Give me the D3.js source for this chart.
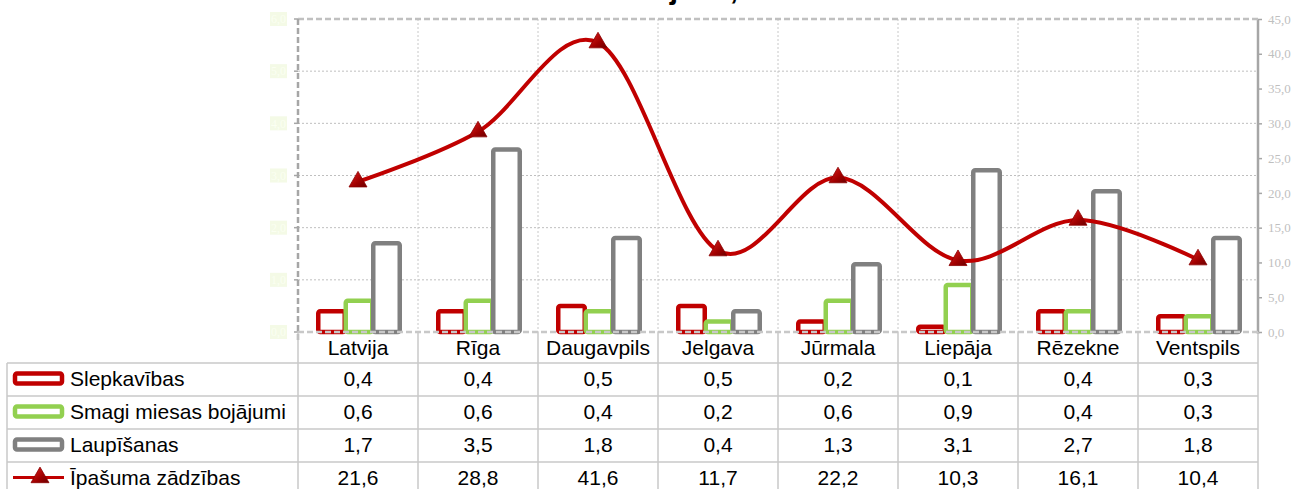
<!DOCTYPE html>
<html>
<head>
<meta charset="utf-8">
<script src="https://cdn.jsdelivr.net/npm/d3@7"></script>
<style>
  body { margin: 0; background: #fff; }
  svg { display: block; font-family: "Liberation Sans", Arial, sans-serif; }
</style>
</head>
<body>
<div id="chart"></div>
<script>
// data
const categories = ["Latvija", "Rīga", "Daugavpils", "Jelgava", "Jūrmala", "Liepāja", "Rēzekne", "Ventspils"];
const slepkavibas = [0.4, 0.4, 0.5, 0.5, 0.2, 0.1, 0.4, 0.3];
const smagiMiesas = [0.6, 0.6, 0.4, 0.2, 0.6, 0.9, 0.4, 0.3];
const laupisanas = [1.7, 3.5, 1.8, 0.4, 1.3, 3.1, 2.7, 1.8];
const ipasumaZadzibas = [21.6, 28.8, 41.6, 11.7, 22.2, 10.3, 16.1, 10.4];
const leftTicks = [0, 1, 2, 3, 4, 5, 6];
const rightTicks = [0, 5, 10, 15, 20, 25, 30, 35, 40, 45];

const barSeries = [
    {name: "Slepkavības", values: slepkavibas, color: "#c00000"},
    {name: "Smagi miesas bojājumi", values: smagiMiesas, color: "#92d050"},
    {name: "Laupīšanas", values: laupisanas, color: "#808080"}
];
const lineSeries = {name: "Īpašuma zādzības", values: ipasumaZadzibas, color: "#c00000"};

const W = 1293, H = 489;
const pLeft = 298, pRight = 1258, pTop = 19, pBottom = 332;
const rowH = 33;
const fs = 21;

const lv = d3.formatLocale({decimal: ",", thousands: " ", grouping: [3], currency: ["", ""]});
const fmt = lv.format(".1f");

const svg = d3.select("#chart").append("svg")
    .attr("width", W)
    .attr("height", H);

const defs = svg.append("defs");
const grad = defs.append("linearGradient").attr("id", "tri")
    .attr("x1", 0).attr("y1", 0).attr("x2", 1).attr("y2", 1);
grad.append("stop").attr("offset", "0%").attr("stop-color", "#e02020");
grad.append("stop").attr("offset", "60%").attr("stop-color", "#a00000");
grad.append("stop").attr("offset", "100%").attr("stop-color", "#6a0000");

const x = d3.scaleBand().domain(categories).range([pLeft, pRight]).padding(0);
const yL = d3.scaleLinear().domain([0, 6]).range([pBottom, pTop]);
const yR = d3.scaleLinear().domain([0, 45]).range([pBottom, pTop]);

// title (cut off at the top of the picture, only descenders show)
svg.append("text")
    .attr("x", 738).attr("y", -1)
    .attr("text-anchor", "end")
    .attr("font-size", 30)
    .attr("font-weight", "bold")
    .text("Noziedzības līmenis uz 1000 iedzīvotājiem,");

// horizontal grid
svg.append("g").selectAll("line")
    .data(leftTicks.slice(1, -1))
    .enter().append("line")
    .attr("x1", pLeft).attr("x2", pRight)
    .attr("y1", d => yL(d)).attr("y2", d => yL(d))
    .attr("stroke", "#bfbfbf")
    .attr("stroke-width", 1)
    .attr("stroke-dasharray", "2,2");

// vertical grid
svg.append("g").selectAll("line")
    .data(categories.slice(1))
    .enter().append("line")
    .attr("x1", d => x(d)).attr("x2", d => x(d))
    .attr("y1", pTop).attr("y2", pBottom)
    .attr("stroke", "#c8c8c8")
    .attr("stroke-width", 1)
    .attr("stroke-dasharray", "2,2");

// left axis labels (very faint)
const leftLab = svg.append("g").selectAll("g")
    .data(leftTicks)
    .enter().append("g")
    .attr("transform", d => `translate(278.5,${yL(d)})`);
leftLab.append("rect")
    .attr("x", -8.5).attr("y", -7).attr("width", 17).attr("height", 14)
    .attr("fill", "#f4fae6");
leftLab.append("text")
    .attr("text-anchor", "middle").attr("dy", "0.35em")
    .attr("font-family", "Liberation Serif, serif")
    .attr("font-size", 12)
    .attr("fill", "#fbfff2")
    .text(d => fmt(d));

// right axis
const rAxis = svg.append("g")
    .attr("transform", `translate(${pRight},0)`)
    .call(d3.axisRight(yR).tickValues(rightTicks).tickSize(4).tickFormat(fmt));
rAxis.select(".domain").remove();
rAxis.selectAll("line").attr("stroke", "#a6a6a6").attr("stroke-width", 1.5);
rAxis.selectAll("text")
    .attr("x", 10)
    .attr("font-family", "Liberation Serif, serif")
    .attr("font-size", 13)
    .attr("fill", "#bfbfbf");
svg.append("line")
    .attr("x1", pRight).attr("x2", pRight).attr("y1", pTop).attr("y2", pBottom + 2)
    .attr("stroke", "#a6a6a6").attr("stroke-width", 2.5);

// left tick marks
svg.append("g").selectAll("line")
    .data(leftTicks)
    .enter().append("line")
    .attr("x1", pLeft - 4).attr("x2", pLeft)
    .attr("y1", d => yL(d)).attr("y2", d => yL(d))
    .attr("stroke", "#a6a6a6").attr("stroke-width", 1.5);

// bars
const bw = 27.5;
barSeries.forEach((s, i) => {
    svg.append("g").selectAll("rect")
        .data(s.values)
        .enter().append("rect")
        .attr("x", (d, j) => x(categories[j]) + x.bandwidth() / 2 + (i - 1) * bw - bw / 2 + 1.5)
        .attr("y", d => yL(d))
        .attr("width", bw - 1)
        .attr("height", d => pBottom - yL(d))
        .attr("rx", 2)
        .attr("fill", "#fff")
        .attr("stroke", s.color)
        .attr("stroke-width", 4.5);
});

// frame: top, left and bottom dashed
svg.append("line")
    .attr("x1", pLeft).attr("x2", pRight).attr("y1", pTop).attr("y2", pTop)
    .attr("stroke", "#c0c0c0").attr("stroke-width", 2.5).attr("stroke-dasharray", "6,3");
svg.append("line")
    .attr("x1", pLeft).attr("x2", pLeft).attr("y1", pTop).attr("y2", pBottom + 8)
    .attr("stroke", "#a6a6a6").attr("stroke-width", 2.5).attr("stroke-dasharray", "6,3");
svg.append("line")
    .attr("x1", pLeft).attr("x2", pRight).attr("y1", pBottom).attr("y2", pBottom)
    .attr("stroke", "#c8c8c8").attr("stroke-width", 2.5).attr("stroke-dasharray", "6,3");

// line
const line = d3.line()
    .x((d, j) => x(categories[j]) + x.bandwidth() / 2)
    .y(d => yR(d))
    .curve(d3.curveCardinal.tension(0));
svg.append("path")
    .datum(lineSeries.values)
    .attr("d", line)
    .attr("fill", "none")
    .attr("stroke", lineSeries.color)
    .attr("stroke-width", 4);

const tri = d3.symbol().type(d3.symbolTriangle).size(140);
svg.append("g").selectAll("path")
    .data(lineSeries.values)
    .enter().append("path")
    .attr("d", tri)
    .attr("transform", (d, j) => `translate(${x(categories[j]) + x.bandwidth() / 2},${yR(d)})`)
    .attr("fill", "url(#tri)")
    .attr("stroke", "#8a0000")
    .attr("stroke-width", 0.8);

// data table
const table = svg.append("g");
const gridC = "#c8c8c8";
// category labels
table.selectAll("text.cat")
    .data(categories)
    .enter().append("text")
    .attr("class", "cat")
    .attr("x", d => x(d) + x.bandwidth() / 2)
    .attr("y", pBottom + 23)
    .attr("text-anchor", "middle")
    .attr("font-size", fs)
    .text(d => d);

const rowTop = pBottom + 31;
const allRows = barSeries.concat([lineSeries]);
// horizontal lines
for (let r = 0; r <= allRows.length; r++) {
    table.append("line")
        .attr("x1", 7).attr("x2", pRight)
        .attr("y1", rowTop + r * rowH).attr("y2", rowTop + r * rowH)
        .attr("stroke", gridC).attr("stroke-width", 1.5);
}
// vertical lines
table.selectAll("line.v")
    .data(categories.concat(["end"]))
    .enter().append("line")
    .attr("class", "v")
    .attr("x1", (d, j) => pLeft + j * x.bandwidth())
    .attr("x2", (d, j) => pLeft + j * x.bandwidth())
    .attr("y1", pBottom).attr("y2", H)
    .attr("stroke", gridC).attr("stroke-width", 1.5);
table.append("line")
    .attr("x1", 7).attr("x2", 7).attr("y1", rowTop).attr("y2", H)
    .attr("stroke", gridC).attr("stroke-width", 1.5);

allRows.forEach((s, r) => {
    const cy = rowTop + r * rowH + rowH / 2 - 1;
    if (r < barSeries.length) {
        table.append("rect")
            .attr("x", 15).attr("y", cy - 5)
            .attr("width", 47).attr("height", 10)
            .attr("rx", 2)
            .attr("fill", "#fff")
            .attr("stroke", s.color)
            .attr("stroke-width", 4.5);
    } else {
        table.append("line")
            .attr("x1", 13).attr("x2", 64).attr("y1", cy).attr("y2", cy)
            .attr("stroke", s.color).attr("stroke-width", 3);
        table.append("path")
            .attr("d", tri)
            .attr("transform", `translate(40,${cy})`)
            .attr("fill", "url(#tri)")
            .attr("stroke", "#8a0000")
            .attr("stroke-width", 0.8);
    }
    table.append("text")
        .attr("x", 70).attr("y", cy).attr("dy", "0.35em")
        .attr("font-size", fs)
        .text(s.name);
    table.selectAll(null)
        .data(s.values)
        .enter().append("text")
        .attr("x", (d, j) => x(categories[j]) + x.bandwidth() / 2)
        .attr("y", cy).attr("dy", "0.35em")
        .attr("text-anchor", "middle")
        .attr("font-size", fs)
        .text(d => fmt(d));
});
</script>
</body>
</html>
